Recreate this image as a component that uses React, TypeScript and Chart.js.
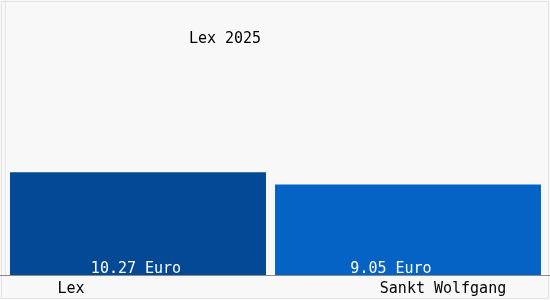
import React, { useEffect, useRef } from "react";
import { Chart, registerables } from "chart.js";

Chart.register(...registerables);

const categories = ["Lex", "Sankt Wolfgang"];
const values = [10.27, 9.05];
const valueLabels = ["10.27 Euro", "9.05 Euro"];
const title = "Lex 2025";
const barColors = ["#034996", "#0563c6"];
const barPercentages = [0.948, 0.985];
const categoryLabelOffsets = [-67, 35];
const valueLabelOffsets = [-2, -17];
const FONT = "15px 'DejaVu Sans Mono', monospace";

const drawPlugin = {
  id: "custom",
  beforeDraw(chart: any) {
    const { ctx, width, height, chartArea } = chart;
    ctx.save();
    ctx.fillStyle = "#f8f8f8";
    ctx.fillRect(0, 0, width, height);
    ctx.strokeStyle = "#e4e4e4";
    ctx.lineWidth = 1;
    ctx.strokeRect(1.5, 1.5, width - 3, height - 3);
    ctx.beginPath();
    ctx.moveTo(chartArea.left + 2.5, 0);
    ctx.lineTo(chartArea.left + 2.5, chartArea.bottom);
    ctx.stroke();
    ctx.restore();
  },
  afterDatasetsDraw(chart: any) {
    const { ctx, chartArea } = chart;
    const xs = chart.scales.x;
    ctx.save();
    ctx.strokeStyle = "#8a8a8a";
    ctx.lineWidth = 1;
    ctx.beginPath();
    ctx.moveTo(0, chartArea.bottom + 0.5);
    ctx.lineTo(chart.width, chartArea.bottom + 0.5);
    ctx.stroke();
    ctx.font = FONT;
    ctx.textAlign = "center";
    ctx.textBaseline = "alphabetic";
    categories.forEach((c, i) => {
      const x = xs.getPixelForValue(i);
      ctx.fillStyle = "#ffffff";
      ctx.fillText(valueLabels[i], x + valueLabelOffsets[i], chartArea.bottom - 2);
      ctx.fillStyle = "#000000";
      ctx.fillText(c, x + categoryLabelOffsets[i], chartArea.bottom + 18);
    });
    ctx.fillStyle = "#000000";
    ctx.fillText(title, 225, 43);
    ctx.restore();
  },
};

export default function App() {
  const ref = useRef<HTMLCanvasElement>(null);
  useEffect(() => {
    document.body.style.margin = "0";
    const chart = new Chart(ref.current!, {
      type: "bar",
      data: {
        labels: categories,
        datasets: values.map((v, i) => ({
          data: values.map((_, j) => (j === i ? v : null)),
          backgroundColor: barColors[i],
          barPercentage: barPercentages[i],
          categoryPercentage: 1,
        })),
      },
      options: {
        responsive: false,
        animation: false,
        layout: { padding: { left: 3, right: 7, top: 25, bottom: 25 } },
        plugins: { legend: { display: false }, tooltip: { enabled: false }, title: { display: false } },
        scales: {
          x: { display: false, stacked: true },
          y: { display: false, min: 0, max: 25, stacked: true },
        },
      },
      plugins: [drawPlugin],
    });
    return () => chart.destroy();
  }, []);
  return (
    <div style={{ width: 550, height: 300 }}>
      <canvas ref={ref} width={550} height={300} />
    </div>
  );
}
